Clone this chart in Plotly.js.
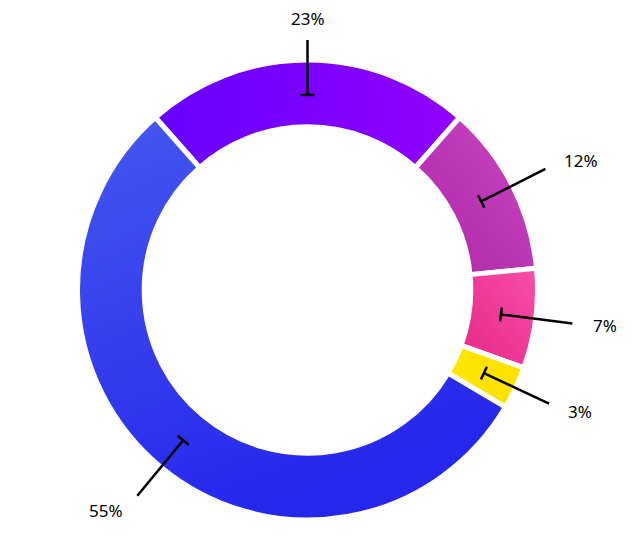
<!DOCTYPE html>
<html><head><meta charset="utf-8">
<script src="https://cdn.plot.ly/plotly-3.0.1.min.js"></script>
<style>html,body{margin:0;padding:0;background:#fff;}</style>
</head><body><div id="chart" style="width:640px;height:554px;"></div>
<script>
// Data
const categories = ['A', 'B', 'C', 'D', 'E'];
const values = [23, 12, 7, 3, 55];
const valueLabels = ['23%', '12%', '7%', '3%', '55%'];
const colors = ['#7a00ff', '#bd34b6', '#ee3996', '#ffe100', '#3439ec'];

// Gradient styling per slice: [x1,y1,x2,y2, startColor, endColor]
const gradients = [
  [0, 0.5, 1, 0.5, '#6600ff', '#9200ff'],
  [1, 0, 0, 1, '#cb46c6', '#ad27a5'],
  [1, 0, 0, 1, '#f74fa8', '#e72686'],
  [0, 0, 1, 1, '#ffe600', '#ffe000'],
  [0, 0, 0.4, 1, '#4658ef', '#2626ec']
];

// Layout geometry (pixels)
const W = 640, H = 554, CX = 307.5, CY = 290, R = 230, HOLE = 0.71;
const R_T = 195, R_END_SIDE = 267, R_END_TOP = 250, R_LAB_SIDE = 286, R_LAB_TOP = 272, TBAR = 7;

const total = values.reduce((a, b) => a + b, 0);
const rotation = -values[0] / total * 180;

const toPaper = (x, y) => [x / W, 1 - y / H];
const pt = (r, a) => [CX + r * Math.sin(a), CY - r * Math.cos(a)];

const shapes = [], annotations = [];
let cum = 0;
values.forEach((v, i) => {
  const a = (rotation + (cum + v / 2) / total * 360) * Math.PI / 180;
  cum += v;
  const s = Math.sin(a), c = Math.cos(a);
  const isTop = Math.abs(s) < 0.3;
  const t = pt(R_T, a);
  const e = pt(isTop ? R_END_TOP : R_END_SIDE, a);
  const lineStyle = {color: '#000', width: 2.5};
  let p0 = toPaper(t[0], t[1]), p1 = toPaper(e[0], e[1]);
  shapes.push({type: 'line', xref: 'paper', yref: 'paper', x0: p0[0], y0: p0[1], x1: p1[0], y1: p1[1], line: lineStyle});
  const b0 = toPaper(t[0] + TBAR * c, t[1] + TBAR * s);
  const b1 = toPaper(t[0] - TBAR * c, t[1] - TBAR * s);
  shapes.push({type: 'line', xref: 'paper', yref: 'paper', x0: b0[0], y0: b0[1], x1: b1[0], y1: b1[1], line: lineStyle});
  const l = pt(isTop ? R_LAB_TOP : R_LAB_SIDE, a);
  const lp = toPaper(l[0], l[1]);
  annotations.push({
    xref: 'paper', yref: 'paper', x: lp[0], y: lp[1], text: valueLabels[i], showarrow: false,
    xanchor: isTop ? 'center' : (s > 0 ? 'left' : 'right'), yanchor: 'middle',
    font: {family: '"Noto Sans", sans-serif', size: 17, color: '#000'}
  });
});

const trace = {
  type: 'pie', labels: categories, values: values, sort: false, direction: 'clockwise',
  rotation: rotation, hole: HOLE, textinfo: 'none', hoverinfo: 'none', showlegend: false,
  marker: {colors: colors, line: {color: '#ffffff', width: 5}},
  domain: {x: [(CX - R) / W, (CX + R) / W], y: [(H - CY - R) / H, (H - CY + R) / H]}
};

Plotly.newPlot('chart', [trace], {
  width: W, height: H, margin: {l: 0, r: 0, t: 0, b: 0},
  paper_bgcolor: '#ffffff', plot_bgcolor: '#ffffff', showlegend: false,
  shapes: shapes, annotations: annotations
}, {displayModeBar: false, staticPlot: true}).then(() => {
  const ns = 'http://www.w3.org/2000/svg';
  const svg = document.querySelector('#chart svg.main-svg');
  let defs = svg.querySelector('defs');
  if (!defs) { defs = document.createElementNS(ns, 'defs'); svg.insertBefore(defs, svg.firstChild); }
  gradients.forEach((g, i) => {
    const lg = document.createElementNS(ns, 'linearGradient');
    lg.setAttribute('id', 'sliceGrad' + i);
    lg.setAttribute('x1', g[0]); lg.setAttribute('y1', g[1]);
    lg.setAttribute('x2', g[2]); lg.setAttribute('y2', g[3]);
    [[0, g[4]], [1, g[5]]].forEach(([o, col]) => {
      const st = document.createElementNS(ns, 'stop');
      st.setAttribute('offset', o); st.setAttribute('stop-color', col);
      lg.appendChild(st);
    });
    defs.appendChild(lg);
  });
  document.querySelectorAll('#chart g.slice path.surface').forEach((p, i) => {
    p.style.fill = 'url(#sliceGrad' + i + ')';
  });
});
</script></body></html>
